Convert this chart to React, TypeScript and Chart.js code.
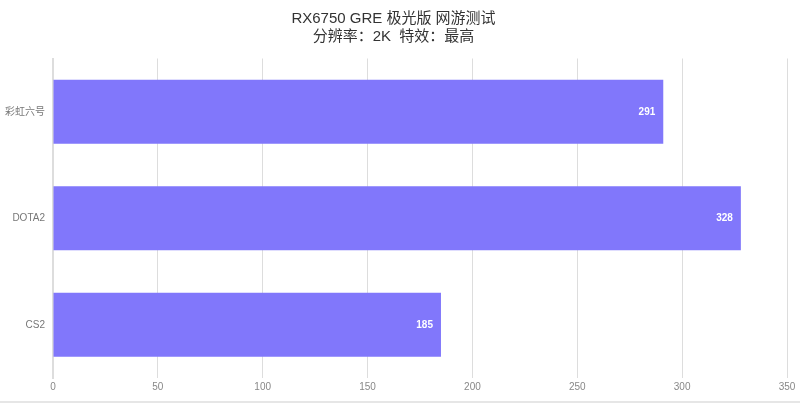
import React, { useEffect, useRef } from 'react';
import { Chart, registerables } from 'chart.js';

Chart.register(...registerables);

const titleLines = ['RX6750 GRE 极光版 网游测试', '分辨率：2K  特效：最高'];
const games = ['彩虹六号', 'DOTA2', 'CS2'];
const fps = [291, 328, 185];
const axisMax = 350;
const axisStep = 50;

const FONT = '"Liberation Sans", Arial, "Noto Sans CJK SC", sans-serif';

// draws the value at the end of each bar, inside it
const barValuePlugin = {
    id: 'barValue',
    afterDatasetsDraw(chart) {
        const { ctx } = chart;
        const meta = chart.getDatasetMeta(0);
        ctx.save();
        ctx.fillStyle = '#ffffff';
        ctx.font = `bold 10px ${FONT}`;
        ctx.textAlign = 'right';
        ctx.textBaseline = 'middle';
        meta.data.forEach((bar, i) => {
            ctx.fillText(String(chart.data.datasets[0].data[i]), bar.x - 8, bar.y);
        });
        ctx.restore();
    },
};

const App = () => {
    const chartRef = useRef<HTMLCanvasElement | null>(null);
    const chartInstanceRef = useRef<Chart | null>(null);

    useEffect(() => {
        document.body.style.margin = '0';
        const ctx = chartRef.current?.getContext('2d');
        if (ctx) {
            chartInstanceRef.current = new Chart(ctx, {
                type: 'bar',
                data: {
                    labels: games,
                    datasets: [
                        {
                            label: 'FPS',
                            data: fps,
                            backgroundColor: '#8177fb',
                            barPercentage: 0.6,
                            categoryPercentage: 1,
                        },
                    ],
                },
                options: {
                    indexAxis: 'y',
                    animation: false,
                    responsive: true,
                    maintainAspectRatio: false,
                    layout: { padding: { left: 0, right: 13, top: 0, bottom: 5 } },
                    plugins: {
                        legend: { display: false },
                        tooltip: { enabled: false },
                        title: {
                            display: true,
                            text: titleLines,
                            color: '#333333',
                            font: { family: FONT, size: 15, weight: 'normal', lineHeight: 1.25 },
                            padding: { top: 9, bottom: 12 },
                        },
                    },
                    scales: {
                        x: {
                            min: 0,
                            max: axisMax,
                            ticks: { stepSize: axisStep, color: '#888888', font: { family: FONT, size: 10 }, padding: 3 },
                            grid: { color: '#dddddd', lineWidth: 1, drawTicks: false },
                            border: { display: false },
                        },
                        y: {
                            ticks: { color: '#777777', font: { family: FONT, size: 10 }, padding: 8 },
                            grid: { display: false, drawTicks: false },
                            border: { display: true, color: '#dddddd', width: 2 },
                            afterFit: (scale) => {
                                scale.width = 53;
                            },
                        },
                    },
                },
                plugins: [barValuePlugin],
            });
        }
        return () => {
            chartInstanceRef.current?.destroy();
        };
    }, []);

    return (
        <div style={{ width: 800, height: 403, background: '#ffffff' }}>
            <div style={{ position: 'relative', width: 800, height: 401 }}>
                <canvas ref={chartRef} />
            </div>
            <div style={{ height: 2, background: '#e6e6e6' }} />
        </div>
    );
};

export default App;
